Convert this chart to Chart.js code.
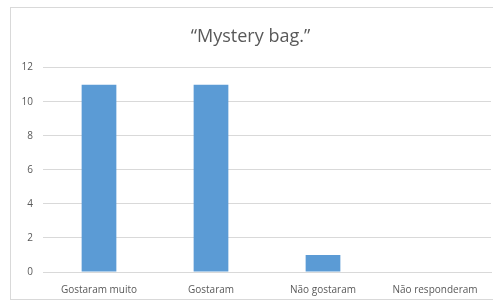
<!DOCTYPE html>
<html>
<head>
<meta charset="utf-8">
<script src="https://cdn.jsdelivr.net/npm/chart.js@4"></script>
<style>
    html, body { margin: 0; padding: 0; background: #fff; }
    #wrap { position: relative; width: 493px; height: 302px; }
    #frame { position: absolute; left: 10px; top: 7px; width: 495px; height: 291px; border: 1px solid #d9d9d9; }
    canvas { position: absolute; left: 0; top: 0; }
</style>
</head>
<body>
<div id="wrap">
    <div id="frame"></div>
    <canvas id="chart"></canvas>
</div>
<script>
// Chart data
const categories = ['Gostaram muito', 'Gostaram', 'Não gostaram', 'Não responderam'];
const respostas = [11, 11, 1, 0];
const yTicks = [0, 2, 4, 6, 8, 10, 12];

const textColor = '#595959';
const gridColor = '#d9d9d9';

const ctx = document.getElementById('chart');
new Chart(ctx.getContext('2d'), {
    type: 'bar',
    data: {
        labels: categories,
        datasets: [{
            data: respostas,
            backgroundColor: '#5b9bd5',
            borderWidth: 0,
            categoryPercentage: 1,
            barPercentage: 0.31
        }]
    },
    options: {
        responsive: true,
        maintainAspectRatio: false,
        animation: false,
        layout: { padding: { left: 10, right: 2, top: 7, bottom: 6 } },
        plugins: {
            legend: { display: false },
            tooltip: { enabled: false },
            title: {
                display: true,
                text: '“Mystery bag.”',
                color: textColor,
                font: { family: 'Open Sans', size: 18, weight: 'normal' },
                padding: { top: 19, bottom: 20 }
            }
        },
        scales: {
            x: {
                afterFit(scale) { scale.height = 24; },
                grid: { display: false, drawTicks: false },
                border: { color: gridColor },
                ticks: {
                    color: textColor,
                    font: { family: 'Open Sans', size: 10 },
                    padding: 12,
                    maxRotation: 0
                }
            },
            y: {
                min: 0,
                max: 12,
                afterFit(scale) { scale.width = 33; },
                afterBuildTicks(scale) { scale.ticks = yTicks.map(v => ({ value: v })); },
                grid: { color: gridColor, drawTicks: false },
                border: { display: false },
                ticks: {
                    color: textColor,
                    font: { family: 'Open Sans', size: 10 },
                    padding: 10
                }
            }
        }
    }
});
</script>
</body>
</html>
